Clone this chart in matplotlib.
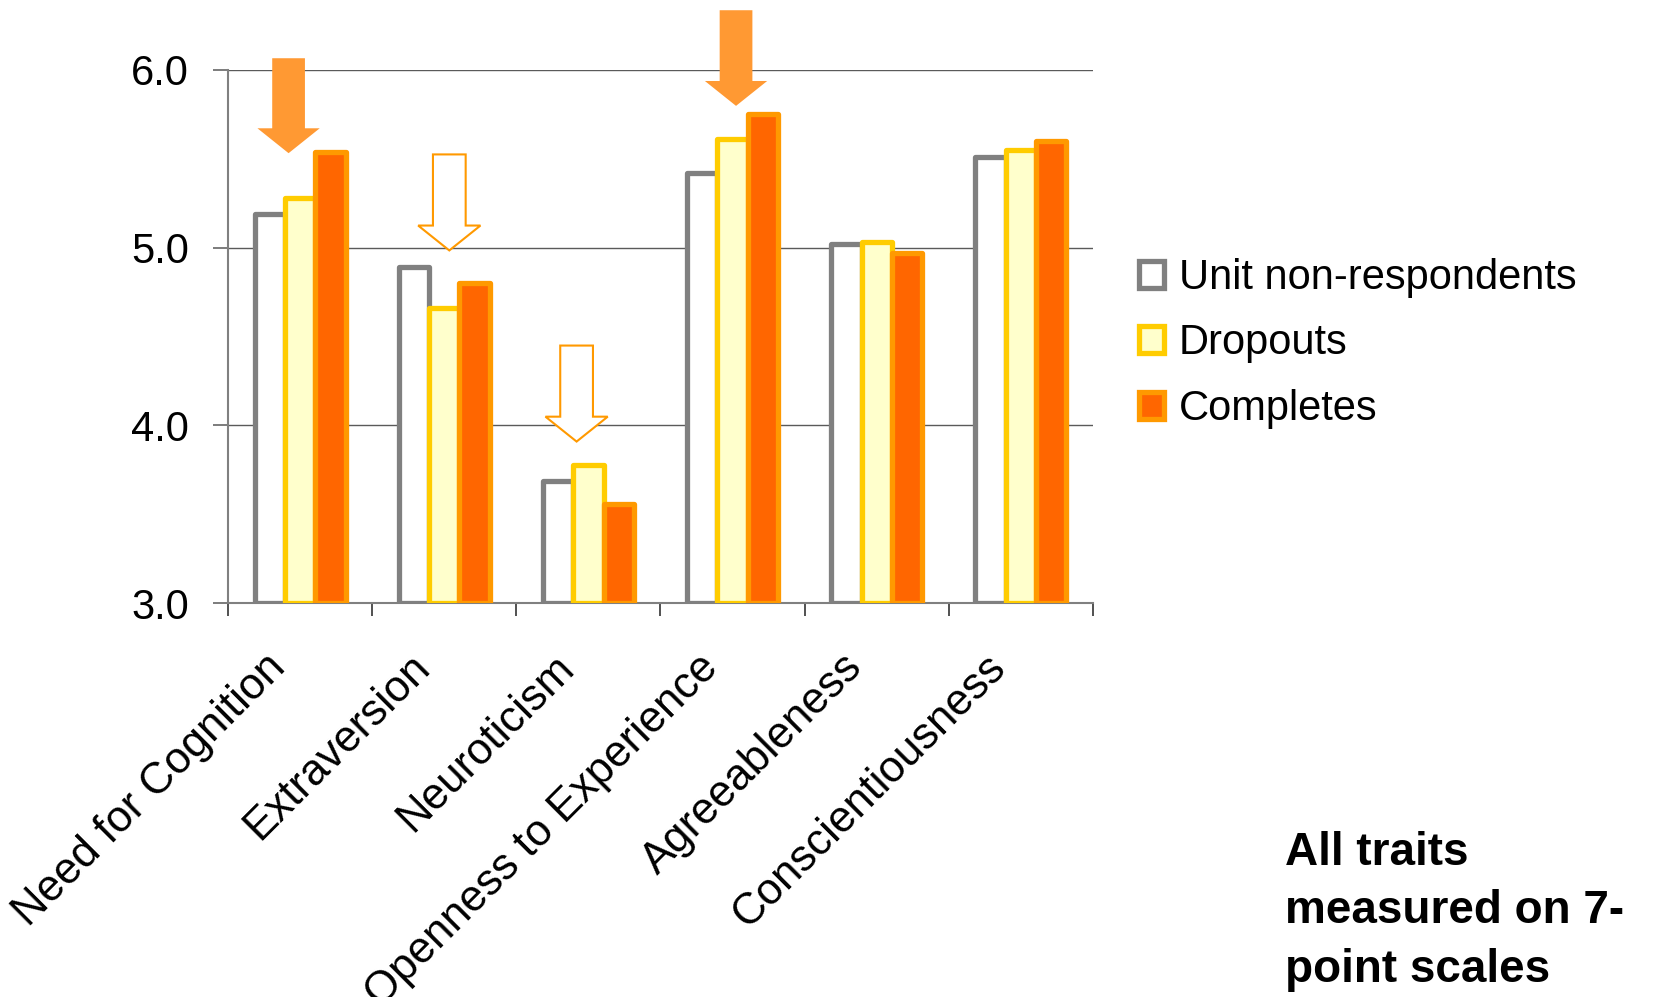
import numpy as np
import matplotlib
matplotlib.use('Agg')
import matplotlib.pyplot as plt
from matplotlib.patches import FancyArrow
from matplotlib.transforms import ScaledTranslation

plt.rcParams['font.family'] = ['Liberation Sans', 'DejaVu Sans']

traits = ['Need for Cognition', 'Extraversion', 'Neuroticism',
          'Openness to Experience', 'Agreeableness', 'Conscientiousness']
nonresp = [5.19, 4.89, 3.69, 5.42, 5.02, 5.51]
dropouts = [5.28, 4.66, 3.78, 5.61, 5.03, 5.55]
completes = [5.54, 4.80, 3.56, 5.75, 4.97, 5.60]

groups = ['Unit non-respondents', 'Dropouts', 'Completes']
# (trait index, x shift, shaft top, tip, filled)
arrows = [
    (0, -0.08, 6.065, 5.531, True),
    (1, 0.035, 5.524, 4.984, False),
    (2, -0.082, 4.449, 3.909, False),
    (3, 0.024, 6.335, 5.797, True),
]

fig = plt.figure(figsize=(16.56, 9.97), dpi=100)
ax = fig.add_axes([0.1377, 0.395, 0.5223, 0.535])

x = np.arange(len(traits))
w = 0.21
styles = [('white', '#808080'), ('#FFFFCC', '#FFCC00'), ('#FF6600', '#FF9900')]
for k, (vals, (fc, ec)) in enumerate(zip([nonresp, dropouts, completes], styles)):
    ax.bar(x + (k - 1) * w, np.array(vals) - 3.0, bottom=3.0, width=w,
           color=fc, edgecolor=ec, linewidth=3.8, label=groups[k], zorder=2 + k,
           joinstyle='round')

ax.set_xlim(-0.5, 5.5)
ax.set_ylim(3.0, 6.0)
ax.set_yticks([3.0, 4.0, 5.0, 6.0])
ax.set_yticklabels(['3.0', '4.0', '5.0', '6.0'], fontsize=30)
ax.yaxis.grid(True, color='#5a5a5a', linewidth=1.0, zorder=0)
ax.set_axisbelow(True)

# category names, slanted, right end sitting just left of each group centre
ax.set_xticks([])
ax.set_xticks(np.arange(-0.5, 6.0, 1.0), minor=True)
ax.tick_params(axis='x', which='minor', length=9, width=1.2, color='#333333')
ax.tick_params(axis='y', length=11, width=1.2, color='#666666', pad=17)
lab_tr = ax.get_xaxis_transform() + ScaledTranslation(-0.21, -0.58, fig.dpi_scale_trans)
for xi, name in zip(x, traits):
    ax.text(xi, 0, name, transform=lab_tr, fontsize=31.5, rotation=45,
            ha='right', va='center', rotation_mode='anchor', clip_on=False)

for s in ['top', 'right']:
    ax.spines[s].set_visible(False)
ax.spines['left'].set_color('#808080')
ax.spines['left'].set_linewidth(1.5)
ax.spines['bottom'].set_color('#808080')
ax.spines['bottom'].set_linewidth(1.5)

for i, dx, top, tip, filled in arrows:
    kw = dict(facecolor='#FF9933', edgecolor='#FF9933', linewidth=0) if filled \
        else dict(facecolor='white', edgecolor='#FF9900', linewidth=1.5)
    arr = FancyArrow(i + dx, top, 0, tip - top, width=0.227, head_width=0.432,
                     head_length=0.14, length_includes_head=True,
                     clip_on=False, zorder=10, **kw)
    ax.add_patch(arr)

fig.legend(loc='upper left', bbox_to_anchor=(0.6775, 0.758), frameon=False,
           fontsize=30, handlelength=0.62, handleheight=0.62,
           handletextpad=0.35, labelspacing=0.61, borderaxespad=0)

fig.text(0.776, 0.167, 'All traits\nmeasured on 7-\npoint scales',
         fontsize=33, fontweight='bold', ha='left', va='top', linespacing=1.43)

fig.savefig('out.png', dpi=100)
